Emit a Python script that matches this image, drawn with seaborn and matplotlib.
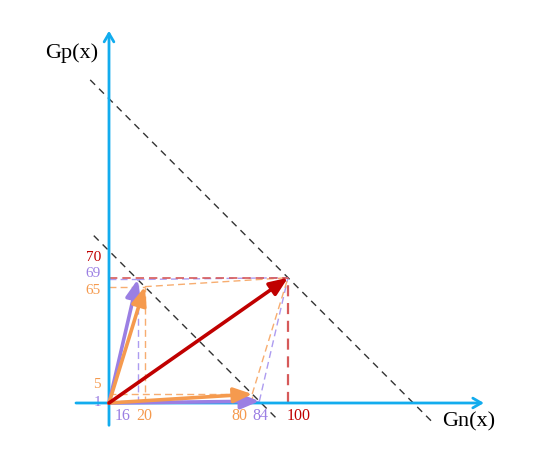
import matplotlib
matplotlib.use("Agg")
import matplotlib.pyplot as plt
import seaborn as sns
import pandas as pd
from matplotlib.patches import FancyArrowPatch

sns.set_theme(style="white")
plt.rcParams['font.family'] = ['Liberation Serif', 'DejaVu Serif']

# ---- data ----
names = ["A", "B", "C", "D", "E"]
gn = [16, 84, 20, 80, 100]          # Gn(x)
gp = [69, 1, 65, 5, 70]             # Gp(x)
series = ["purple", "purple", "orange", "orange", "red"]
level_inner = 85                    # Gn + Gp for A..D
level_outer = 170                   # Gn + Gp for E
x_ticks = [16, 20, 80, 84, 100]
x_tick_series = ["purple", "orange", "orange", "purple", "red"]
y_ticks = [70, 69, 65, 5, 1]
y_tick_series = ["red", "purple", "orange", "orange", "purple"]

solid = {"purple": "#9b7fe3", "orange": "#f59a4e", "red": "#c00000"}
light = {"purple": "#ad9cf0", "orange": "#f7ad70", "red": "#d65a5a"}
axis_blue = "#12acee"

W, H = 553, 467
fig = plt.figure(figsize=(W / 100, H / 100), dpi=100)
ax = fig.add_axes([0, 0, 1, 1])
s = 1.79  # pixels per unit
ox, oy = 109, 403
ax.set_xlim(-ox / s, (W - ox) / s)
ax.set_ylim(-(H - oy) / s, oy / s)
ax.axis("off")

def seg(p, q, col, lw=1.0, z=3, dash=(5, 3)):
    d = pd.DataFrame({"x": [p[0], q[0]], "y": [p[1], q[1]]})
    sns.lineplot(data=d, x="x", y="y", ax=ax, color=col, lw=lw,
                 linestyle=(0, dash), sort=False, estimator=None,
                 errorbar=None, zorder=z)

# black dashed iso-lines
for lvl, x0, x1 in [(level_inner, -8.5, 93), (level_outer, -10.5, 181)]:
    seg((x0, lvl - x0), (x1, lvl - x1), "#333333", lw=1.0, z=2, dash=(5, 4))

# dashed projections and links
E = (gn[4], gp[4])
for i in range(4):
    p = (gn[i], gp[i])
    col = light[series[i]]
    seg((0, p[1]), p, col)
    seg((p[0], 0), p, col)
    seg(p, E, col)
seg((0, E[1]), E, light["red"], lw=1.2)
seg((E[0], 0), E, light["red"], lw=1.6)

# axes arrows
ax.add_patch(FancyArrowPatch((-20, 0), (211, 0), arrowstyle="->,head_length=6,head_width=3.5",
                             color=axis_blue, lw=2, mutation_scale=1, zorder=4))
ax.add_patch(FancyArrowPatch((0, -14), (0, 209.5), arrowstyle="->,head_length=6,head_width=3.5",
                             color=axis_blue, lw=2, mutation_scale=1, zorder=4))

# vectors
for i in range(5):
    ax.add_patch(FancyArrowPatch((0, 0), (gn[i], gp[i]),
                                 arrowstyle="-|>,head_length=11,head_width=4.5",
                                 color=solid[series[i]], lw=2.6, mutation_scale=1,
                                 shrinkA=0, shrinkB=0, zorder=6))

# tick labels
x_off = {16: (-15, "center"), 20: (-1, "center"), 80: (-13, "center"),
         84: (1, "center"), 100: (11, "center")}
for v, sr in zip(x_ticks, x_tick_series):
    dx, ha = x_off[v]
    ax.annotate(str(v), (v, 0), xytext=(dx, -13), textcoords="offset pixels",
                ha=ha, va="center", color=solid[sr], fontsize=11.5)
y_off = {70: 20, 69: 5.5, 65: -3.5, 5: 10, 1: -1}
for v, sr in zip(y_ticks, y_tick_series):
    ax.annotate(str(v), (0, v), xytext=(-8, y_off[v]), textcoords="offset pixels",
                ha="right", va="center", color=solid[sr], fontsize=11)

ax.text((72 - ox) / s, (oy - 53) / s, "Gp(x)", ha="center", va="center",
        fontsize=16, color="black")
ax.text((469 - ox) / s, (oy - 422) / s, "Gn(x)", ha="center", va="center",
        fontsize=16, color="black")

fig.savefig("out.png", dpi=100)
